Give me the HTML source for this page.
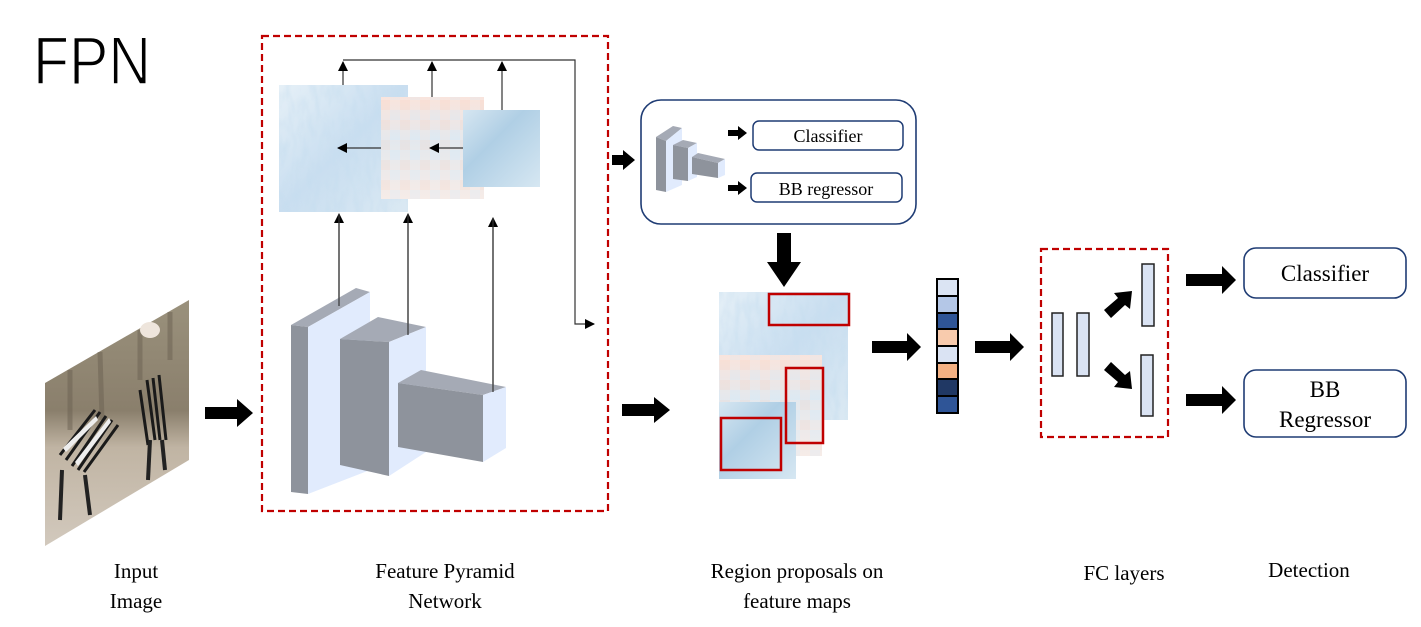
<!DOCTYPE html>
<html><head><meta charset="utf-8"><style>
html,body{margin:0;padding:0;background:#fff;}
svg{display:block;}
.t{font-family:"Liberation Serif",serif;fill:#000;}
</style></head><body>
<svg width="1421" height="627" viewBox="0 0 1421 627" xmlns="http://www.w3.org/2000/svg">
<defs>
<filter id="nz" x="0" y="0" width="100%" height="100%">
<feTurbulence type="fractalNoise" baseFrequency="0.15 0.05" numOctaves="2" seed="3"/>
<feColorMatrix type="matrix" values="0 0 0 0 0.55  0 0 0 0 0.72  0 0 0 0 0.86  0 0 0 1.2 -0.45"/>
<feComposite in2="SourceGraphic" operator="in"/>
</filter>
<pattern id="px" width="20" height="20" patternUnits="userSpaceOnUse">
<rect width="20" height="20" fill="#f6ebe7"/><rect width="10" height="10" fill="#f9ddd1"/><rect x="10" y="10" width="10" height="10" fill="#e3edf5"/>
</pattern>
<linearGradient id="bl" x1="0" y1="0" x2="1" y2="1"><stop offset="0" stop-color="#e6f0f7"/><stop offset="0.5" stop-color="#c9def0"/><stop offset="1" stop-color="#dbe9f3"/></linearGradient>
<linearGradient id="bl2" x1="0" y1="0" x2="1" y2="1"><stop offset="0" stop-color="#d6e6f1"/><stop offset="0.4" stop-color="#b0cfe5"/><stop offset="1" stop-color="#d6e7f2"/></linearGradient>
<linearGradient id="pk" x1="0" y1="0" x2="0" y2="1"><stop offset="0" stop-color="#fbe0d6"/><stop offset="0.45" stop-color="#d8e7f2"/><stop offset="1" stop-color="#f6ece8"/></linearGradient>
<linearGradient id="zb" x1="0" y1="0" x2="0" y2="1"><stop offset="0" stop-color="#9a917c"/><stop offset="0.45" stop-color="#8a7f6c"/><stop offset="0.6" stop-color="#c0b4a3"/><stop offset="1" stop-color="#d2c9bd"/></linearGradient>
<marker id="ah" markerWidth="10" markerHeight="10" refX="9" refY="5" orient="auto" markerUnits="userSpaceOnUse"><path d="M0,0 L10,5 L0,10 z" fill="#000"/></marker>
</defs>

<text x="33" y="84" font-family="Liberation Sans, sans-serif" font-size="68" textLength="118" lengthAdjust="spacingAndGlyphs" stroke="#fff" stroke-width="1.6" paint-order="normal">FPN</text>

<!-- zebra image -->
<polygon points="45,383 189,300 189,460 45,546" fill="url(#zb)"/>
<g stroke="#6b6152" stroke-width="5" opacity="0.5">
<line x1="70" y1="370" x2="70" y2="430"/><line x1="100" y1="352" x2="102" y2="420"/><line x1="140" y1="330" x2="140" y2="380"/><line x1="170" y1="312" x2="170" y2="360"/>
</g>
<ellipse cx="150" cy="330" rx="10" ry="8" fill="#eee5dc"/>
<g stroke="#1a1a1a" stroke-width="3">
<path d="M60,455 L95,410 M66,460 L100,412 M72,466 L106,416 M78,470 L112,420 M84,472 L118,425" />
<path d="M147,380 L155,440 M153,378 L160,440 M159,375 L166,440 M140,390 L148,445"/>
</g>
<g fill="#eee">
<path d="M63,448 L96,416 L98,420 L66,452z"/><path d="M75,462 L109,418 L111,422 L78,466z"/>
</g>
<line x1="62" y1="470" x2="60" y2="520" stroke="#222" stroke-width="4"/><line x1="85" y1="475" x2="90" y2="515" stroke="#222" stroke-width="4"/>
<line x1="150" y1="440" x2="148" y2="480" stroke="#222" stroke-width="4"/><line x1="162" y1="440" x2="165" y2="470" stroke="#222" stroke-width="4"/>

<polygon points="205,407 237,407 237,399 253,413 237,427 237,419 205,419" fill="#000"/>

<!-- FPN dashed box -->
<rect x="262" y="36" width="346" height="475" fill="none" stroke="#c00000" stroke-width="2.2" stroke-dasharray="7,4"/>

<rect x="279" y="85" width="129" height="127" fill="url(#bl)"/>
<rect x="279" y="85" width="129" height="127" fill="#fff" filter="url(#nz)" opacity="0.8"/>
<rect x="381" y="97" width="103" height="102" fill="url(#px)"/>
<rect x="381" y="97" width="103" height="102" fill="url(#pk)" opacity="0.6"/>
<rect x="463" y="110" width="77" height="77" fill="url(#bl2)"/>

<g stroke="#333" stroke-width="1.2" fill="none">
<polyline points="343,60 575,60 575,324 594,324" marker-end="url(#ah)"/>
<line x1="343" y1="85" x2="343" y2="62" marker-end="url(#ah)"/>
<line x1="432" y1="97" x2="432" y2="62" marker-end="url(#ah)"/>
<line x1="502" y1="110" x2="502" y2="62" marker-end="url(#ah)"/>
<line x1="381" y1="148" x2="338" y2="148" marker-end="url(#ah)"/>
<line x1="463" y1="148" x2="430" y2="148" marker-end="url(#ah)"/>
<line x1="339" y1="306" x2="339" y2="214" marker-end="url(#ah)"/>
<line x1="408" y1="335" x2="408" y2="214" marker-end="url(#ah)"/>
<line x1="493" y1="392" x2="493" y2="218" marker-end="url(#ah)"/>
</g>

<polygon points="291,325 356,288 370,292 308,327" fill="#a5aab5"/>
<polygon points="291,325 308,327 308,494 291,492" fill="#8e939c"/>
<polygon points="308,327 370,292 370,470 308,494" fill="#e1ebfd"/>
<polygon points="340,339 378,317 426,327 389,342" fill="#a5aab5"/>
<polygon points="340,339 389,342 389,476 340,465" fill="#8e939c"/>
<polygon points="389,342 426,327 426,452 389,476" fill="#e1ebfd"/>
<polygon points="398,383 421,370 506,387 483,395" fill="#a5aab5"/>
<polygon points="398,383 483,395 483,462 398,447" fill="#8e939c"/>
<polygon points="483,395 506,387 506,448 483,462" fill="#e1ebfd"/>
<line x1="339" y1="306" x2="339" y2="214" stroke="#333" stroke-width="1.2"/>
<line x1="408" y1="335" x2="408" y2="214" stroke="#333" stroke-width="1.2"/>
<line x1="493" y1="392" x2="493" y2="218" stroke="#333" stroke-width="1.2"/>

<polygon points="612,155 623,155 623,150 635,160 623,170 623,165 612,165" fill="#000"/>

<rect x="641" y="100" width="275" height="124" rx="20" fill="#fff" stroke="#1f3c74" stroke-width="1.6"/>
<polygon points="656,137 673,126 682,128 666,141" fill="#a5aab5"/>
<polygon points="656,137 666,141 666,192 656,190" fill="#8e939c"/>
<polygon points="666,141 682,128 682,185 666,192" fill="#e1ebfd"/>
<polygon points="673,145 683,140 697,143 688,148" fill="#a5aab5"/>
<polygon points="673,145 688,148 688,181 673,179" fill="#8e939c"/>
<polygon points="688,148 697,143 697,177 688,181" fill="#e1ebfd"/>
<polygon points="692,157 698,153 725,159 718,163" fill="#a5aab5"/>
<polygon points="692,157 718,163 718,178 692,174" fill="#8e939c"/>
<polygon points="718,163 725,159 725,175 718,178" fill="#e1ebfd"/>
<polygon points="728,130 738,130 738,126 747,133 738,140 738,136 728,136" fill="#000"/>
<polygon points="728,185 738,185 738,181 747,188 738,195 738,191 728,191" fill="#000"/>
<rect x="753" y="121" width="150" height="29" rx="6" fill="#fff" stroke="#1f3c74" stroke-width="1.5"/>
<rect x="751" y="173" width="151" height="29" rx="6" fill="#fff" stroke="#1f3c74" stroke-width="1.5"/>
<text class="t" x="828" y="142" font-size="18" text-anchor="middle">Classifier</text>
<text class="t" x="826" y="195" font-size="18" text-anchor="middle">BB regressor</text>

<polygon points="777,233 791,233 791,262 801,262 784,287 767,262 777,262" fill="#000"/>

<polygon points="622,404 654,404 654,397 670,410 654,423 654,416 622,416" fill="#000"/>

<rect x="719" y="292" width="129" height="128" fill="url(#bl)"/>
<rect x="719" y="292" width="129" height="128" fill="#fff" filter="url(#nz)" opacity="0.8"/>
<rect x="719" y="355" width="103" height="101" fill="url(#px)"/>
<rect x="719" y="355" width="103" height="101" fill="url(#pk)" opacity="0.6"/>
<rect x="719" y="402" width="77" height="77" fill="url(#bl2)"/>
<g fill="none" stroke="#c00000" stroke-width="2.5">
<rect x="769" y="294" width="80" height="31"/>
<rect x="786" y="368" width="37" height="75"/>
<rect x="721" y="418" width="60" height="52"/>
</g>

<polygon points="872,341 907,341 907,333 921,347 907,361 907,353 872,353" fill="#000"/>

<g stroke="#000" stroke-width="2">
<rect x="937" y="279" width="21" height="17" fill="#dbe4f3"/>
<rect x="937" y="296" width="21" height="17" fill="#b4c7e7"/>
<rect x="937" y="313" width="21" height="16" fill="#2f5597"/>
<rect x="937" y="329" width="21" height="17" fill="#f8cbad"/>
<rect x="937" y="346" width="21" height="17" fill="#dae3f3"/>
<rect x="937" y="363" width="21" height="16" fill="#f4b183"/>
<rect x="937" y="379" width="21" height="17" fill="#203864"/>
<rect x="937" y="396" width="21" height="17" fill="#2f5597"/>
</g>

<polygon points="975,341 1010,341 1010,333 1024,347 1010,361 1010,353 975,353" fill="#000"/>

<rect x="1041" y="249" width="127" height="188" fill="none" stroke="#c00000" stroke-width="2.2" stroke-dasharray="7,4"/>
<g fill="#dae3f3" stroke="#222" stroke-width="1.5">
<rect x="1052" y="313" width="11" height="63"/>
<rect x="1077" y="313" width="12" height="63"/>
<rect x="1142" y="264" width="12" height="62"/>
<rect x="1141" y="355" width="12" height="61"/>
</g>
<polygon points="1104,310 1118,298 1114,293 1132,291 1130,309 1125,305 1111,318" fill="#000"/>
<polygon points="1104,370 1111,362 1125,375 1130,371 1132,389 1114,387 1118,382" fill="#000"/>

<polygon points="1186,274 1222,274 1222,266 1236,280 1222,294 1222,286 1186,286" fill="#000"/>
<polygon points="1186,394 1222,394 1222,386 1236,400 1222,414 1222,406 1186,406" fill="#000"/>
<rect x="1244" y="248" width="162" height="50" rx="12" fill="#fff" stroke="#1f3c74" stroke-width="1.6"/>
<rect x="1244" y="370" width="162" height="67" rx="12" fill="#fff" stroke="#1f3c74" stroke-width="1.6"/>
<text class="t" x="1325" y="281" font-size="23" text-anchor="middle">Classifier</text>
<text class="t" x="1325" y="397" font-size="23" text-anchor="middle">BB</text>
<text class="t" x="1325" y="427" font-size="23" text-anchor="middle">Regressor</text>

<g class="t" font-size="21" text-anchor="middle">
<text x="136" y="578">Input</text><text x="136" y="608">Image</text>
<text x="445" y="578">Feature Pyramid</text><text x="445" y="608">Network</text>
<text x="797" y="578">Region proposals on</text><text x="797" y="608">feature maps</text>
<text x="1124" y="580">FC layers</text>
<text x="1309" y="577">Detection</text>
</g>
</svg>
</body></html>
